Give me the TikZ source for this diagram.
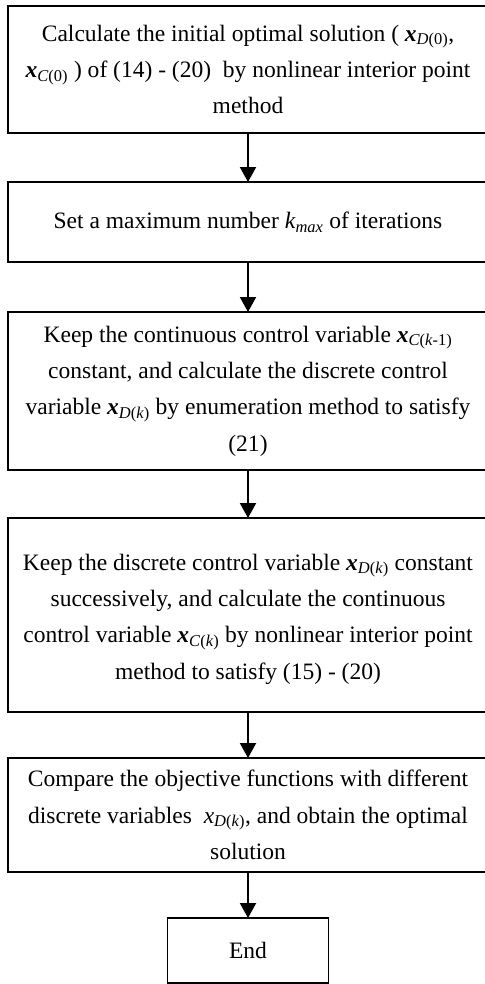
\documentclass[tikz,border=0pt]{standalone}
\usepackage{fontspec}
\setmainfont{Liberation Serif}
\usepackage{tikz}
\usetikzlibrary{arrows.meta,positioning}

% bold italic vector x with a subscript
\newcommand{\bx}[1]{\textbf{\textit{x}}\textsubscript{#1}}
\newcommand{\ix}[1]{\textit{x}\textsubscript{#1}}

\begin{document}
\begin{tikzpicture}[x=1bp, y=1bp, >={Triangle[width=16bp,length=15bp]},
  font=\fontsize{23.6}{36.5}\selectfont,
  stepbox/.style={draw, line width=1.5bp, outer sep=0pt, inner sep=2bp,
    minimum width=480bp, align=center},
  flow/.style={->, line width=2bp}]
\clip (0,0) rectangle (485,-984);
% the step boxes run past the right edge of the page
\node[stepbox, minimum height=127bp] (init) at (248,-69.5)
  {Calculate the initial optimal solution ( \bx{\textit{D}(0)},\\
   \bx{\textit{C}(0)} ) of (14) - (20)\ \ by nonlinear interior point\\
   method};
\node[stepbox, minimum height=80bp, below=49bp of init] (kmax)
  {Set a maximum number \textit{k}\textsubscript{\textit{max}} of iterations};
\node[stepbox, minimum height=158bp, below=50bp of kmax] (disc)
  {Keep the continuous control variable \bx{\textit{C}(\textit{k}-1)}\\
   constant, and calculate the discrete control\\
   variable \bx{\textit{D}(\textit{k})} by enumeration method to satisfy\\
   (21)};
\node[stepbox, minimum height=194bp, below=48bp of disc] (cont)
  {\\[-12bp]Keep the discrete control variable \bx{\textit{D}(\textit{k})} constant\\
   successively, and calculate the continuous\\
   control variable \bx{\textit{C}(\textit{k})} by nonlinear interior point\\
   method to satisfy (15) - (20)};
\node[stepbox, minimum height=114bp, below=46bp of cont] (comp)
  {Compare the objective functions with different\\
   discrete variables\ \ \ix{\textit{D}(\textit{k})}, and obtain the optimal\\
   solution};
\node[stepbox, minimum width=161bp, minimum height=65bp, below=46bp of comp] (end)
  {End};
% arrows between the steps
\draw[flow] (init) -- (kmax);
\draw[flow] (kmax) -- (disc);
\draw[flow] (disc) -- (cont);
\draw[flow] (cont) -- (comp);
\draw[flow] (comp) -- (end);
\end{tikzpicture}
\end{document}
